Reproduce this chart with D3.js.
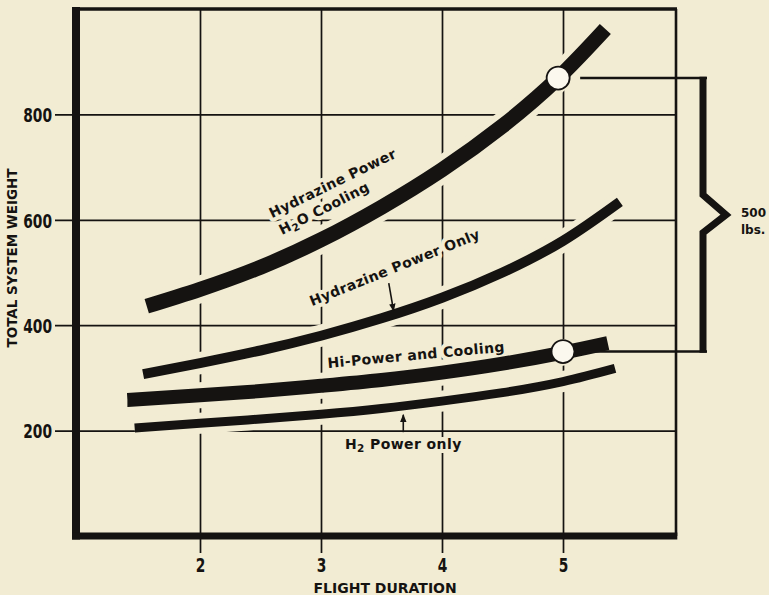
<!DOCTYPE html>
<html><head><meta charset="utf-8">
<script src="https://cdn.jsdelivr.net/npm/d3@7"></script>
<style>
html,body{margin:0;padding:0;background:#F2ECD3;}
svg{display:block;}
</style>
</head><body>
<svg id="chart" width="769" height="595"></svg>
<script>
// ---------- data ----------
const xTickValues = [2, 3, 4, 5];
const yTickValues = [200, 400, 600, 800];
const xAxisTitle = "FLIGHT DURATION";
const yAxisTitle = "TOTAL SYSTEM WEIGHT";

// Hydrazine Power, H2O Cooling
const hydCoolDur = [1.56, 2.0, 2.5, 3.0, 3.5, 4.0, 4.5, 4.96, 5.35];
const hydCoolWt  = [436, 468, 510, 562, 624, 695, 778, 869, 962];
// Hydrazine Power Only
const hydOnlyDur = [1.53, 2.0, 2.5, 3.0, 3.5, 4.0, 4.5, 5.0, 5.47];
const hydOnlyWt  = [307, 328, 352, 380, 413, 452, 500, 560, 634];
// Hi-Power and Cooling
const hiCoolDur = [1.40, 2.0, 2.5, 3.0, 3.5, 4.0, 4.5, 5.0, 5.37];
const hiCoolWt  = [258, 267, 275, 285, 296, 310, 327, 348, 366];
// H2 Power only
const h2OnlyDur = [1.46, 2.0, 2.5, 3.0, 3.5, 4.0, 4.5, 5.0, 5.43];
const h2OnlyWt  = [205, 214, 222, 231, 242, 256, 272, 293, 318];

// marked points joined by the bracket
const markDur = [4.96, 5.0];
const markWt  = [869, 350];
const bracketText = ["500", "lbs."];

// ---------- setup ----------
const INK = "#151311", BG = "#F2ECD3";
const svg = d3.select("#chart");
svg.append("rect").attr("width", 769).attr("height", 595).attr("fill", BG);

const frame = {left: 76, right: 676, top: 9, bottom: 536};
const x = d3.scaleLinear().domain([2, 5]).range([200, 563]);
const y = d3.scaleLinear().domain([0, 1000]).range([536, 9]);

const tickFont = "'DejaVu Sans Condensed','DejaVu Sans',sans-serif";
const labFont = "'DejaVu Sans',sans-serif";

const series = [
  {dur: hydCoolDur, wt: hydCoolWt, w: 15},
  {dur: hydOnlyDur, wt: hydOnlyWt, w: 10},
  {dur: hiCoolDur,  wt: hiCoolWt,  w: 14},
  {dur: h2OnlyDur,  wt: h2OnlyWt,  w: 9}
].map(s => ({...s, pts: s.dur.map((d, i) => [d, s.wt[i]])}));

// ---------- grid + axes ----------
const yAxis = d3.axisLeft(y).tickValues(yTickValues).tickFormat(d3.format("d"))
  .tickSize(-(frame.right - 55)).tickPadding(3);
const gy = svg.append("g").attr("transform", "translate(55,0)").call(yAxis);
const xAxis = d3.axisBottom(x).tickValues(xTickValues).tickFormat(d3.format("d"))
  .tickSize(-(553 - frame.top)).tickPadding(5);
const gx = svg.append("g").attr("transform", "translate(0,553)").call(xAxis);
[gx, gy].forEach(g => {
  g.select(".domain").remove();
  g.selectAll(".tick line").attr("stroke", INK).attr("stroke-width", 1.7);
  g.selectAll(".tick text").attr("fill", INK).attr("font-family", tickFont)
    .attr("font-weight", "bold").attr("font-size", 20)
    .attr("lengthAdjust", "spacingAndGlyphs")
    .attr("textLength", d => String(d).length * 9.6);
});
gx.selectAll(".tick text").attr("dy", "0.72em");
gy.selectAll(".tick text").attr("dy", "0.36em");

// ---------- halos (break the grid where curves and labels sit) ----------
const line = d3.line().x(d => x(d[0])).y(d => y(d[1])).curve(d3.curveNatural);
const halo = svg.append("g");
series.forEach(s => halo.append("path").attr("d", line(s.pts)).attr("fill", "none")
  .attr("stroke", BG).attr("stroke-width", s.w + 12).attr("stroke-linecap", "butt"));

// ---------- labels ----------
const labels = [
  {t: ["Hydrazine Power"], dx: 2.595, wy: 603, a: -26},
  {t: ["H", "2", "O Cooling"], dx: 2.678, wy: 571, a: -27},
  {t: ["Hydrazine Power Only"], dx: 2.926, wy: 436, a: -22},
  {t: ["Hi-Power and Cooling"], dx: 3.058, wy: 319, a: -5.3},
  {t: ["H", "2", " Power only"], dx: 3.198, wy: 165, a: 0}
];
function drawLabel(g, L, isHalo) {
  const tx = g.append("text")
    .attr("transform", `translate(${x(L.dx)},${y(L.wy)}) rotate(${L.a})`)
    .attr("font-family", labFont).attr("font-weight", "bold").attr("font-size", 14)
    .attr("letter-spacing", 0.4).attr("fill", isHalo ? BG : INK);
  if (isHalo) tx.attr("stroke", BG).attr("stroke-width", 8).attr("stroke-linejoin", "round");
  L.t.forEach((part, i) => {
    const ts = tx.append("tspan").text(part);
    if (L.t.length === 3 && i === 1) ts.attr("dy", 3).attr("font-size", 10.5);
    if (L.t.length === 3 && i === 2) ts.attr("dy", -3);
  });
}
labels.forEach(L => drawLabel(halo, L, true));

// ---------- frame ----------
const fr = svg.append("g").attr("stroke", INK).attr("fill", "none");
fr.append("line").attr("x1", frame.left).attr("x2", frame.right + 1).attr("y1", frame.top).attr("y2", frame.top).attr("stroke-width", 3.5);
fr.append("line").attr("x1", frame.right).attr("x2", frame.right).attr("y1", frame.top).attr("y2", frame.bottom).attr("stroke-width", 2.6);
fr.append("line").attr("x1", frame.left).attr("x2", frame.left).attr("y1", frame.top - 2).attr("y2", frame.bottom + 3.5).attr("stroke-width", 8);
fr.append("line").attr("x1", frame.left - 4).attr("x2", frame.right + 1.3).attr("y1", frame.bottom).attr("y2", frame.bottom).attr("stroke-width", 7);

// ---------- curves ----------
series.forEach(s => svg.append("path").attr("d", line(s.pts)).attr("fill", "none")
  .attr("stroke", INK).attr("stroke-width", s.w).attr("stroke-linecap", "butt"));

const lab = svg.append("g");
labels.forEach(L => drawLabel(lab, L, false));

// ---------- arrows ----------
svg.append("defs").append("marker").attr("id", "ah").attr("viewBox", "0 0 10 10")
  .attr("refX", 9).attr("refY", 5).attr("markerWidth", 8).attr("markerHeight", 8)
  .attr("markerUnits", "userSpaceOnUse").attr("orient", "auto")
  .append("path").attr("d", "M0,1 L10,5 L0,9 Z").attr("fill", INK);
const arrows = [
  {from: [3.56, 480], to: [3.60, 427]},
  {from: [3.68, 197], to: [3.68, 230]}
];
arrows.forEach(a => svg.append("line")
  .attr("x1", x(a.from[0])).attr("y1", y(a.from[1]))
  .attr("x2", x(a.to[0])).attr("y2", y(a.to[1]))
  .attr("stroke", INK).attr("stroke-width", 1.6).attr("marker-end", "url(#ah)"));

// ---------- axis titles ----------
svg.append("text").text(xAxisTitle).attr("x", x(3.53)).attr("y", 593)
  .attr("text-anchor", "middle").attr("font-family", labFont)
  .attr("font-weight", "bold").attr("font-size", 14).attr("fill", INK);
svg.append("text").text(yAxisTitle)
  .attr("transform", `translate(17,${(168 + 348) / 2}) rotate(-90)`)
  .attr("text-anchor", "middle").attr("font-family", labFont)
  .attr("font-weight", "bold").attr("font-size", 13.5).attr("fill", INK);

// ---------- marked points + bracket ----------
const marks = markDur.map((d, i) => [x(d), y(markWt[i])]);
const br = svg.append("g");
marks.forEach(m => br.append("line").attr("x1", m[0] + 22).attr("x2", 707)
  .attr("y1", m[1]).attr("y2", m[1]).attr("stroke", INK).attr("stroke-width", 2.6));
const yTop = marks[0][1], yBot = marks[1][1], yMid = (yTop + yBot) / 2;
br.append("path")
  .attr("d", `M703,${yTop - 1.3} V${yMid - 20} L726,${yMid} L703,${yMid + 18} V${yBot + 1.3}`)
  .attr("fill", "none").attr("stroke", INK).attr("stroke-width", 7).attr("stroke-linejoin", "miter");
marks.forEach(m => br.append("circle").attr("cx", m[0]).attr("cy", m[1]).attr("r", 11.5)
  .attr("fill", "#FBF8EE").attr("stroke", INK).attr("stroke-width", 1.8));
bracketText.forEach((t, i) => br.append("text").text(t).attr("x", 741).attr("y", yMid + 2 + i * 17)
  .attr("font-family", labFont).attr("font-weight", "bold").attr("font-size", 12).attr("fill", INK));
</script>
</body></html>
